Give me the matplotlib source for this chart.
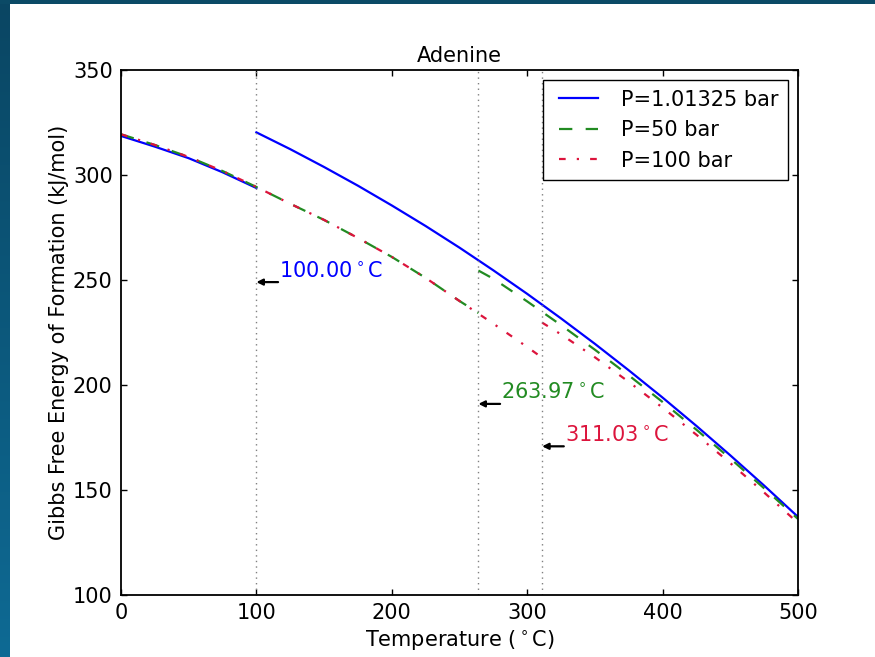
import numpy as np
import matplotlib
matplotlib.use("Agg")
import matplotlib.pyplot as plt
from matplotlib.lines import Line2D
from matplotlib.legend_handler import HandlerLine2D

# --- data (kJ/mol vs. degrees C) ---
# liquid branch at 1.01325 bar
t_liq_1 = [0, 25, 50, 75, 100]
g_liq_1 = [318.6, 313.5, 308.0, 301.3, 293.8]
# gas branch at 1.01325 bar
t_gas_1 = [100, 125, 150, 175, 200, 225, 250, 275, 300, 325, 350, 375, 400, 425, 450, 475, 500]
g_gas_1 = [320.3, 312.3, 303.8, 294.9, 285.5, 275.7, 265.4, 254.6, 243.4, 231.7, 219.6,
           207.0, 194.0, 180.5, 166.5, 152.1, 137.2]

# liquid branch at 50 bar
t_liq_50 = [0, 25, 50, 75, 100, 125, 150, 175, 200, 225, 250, 263.97]
g_liq_50 = [319.4, 314.3, 308.6, 301.9, 294.3, 286.3, 278.6, 270.0, 261.0, 251.0, 240.0, 234.3]
# gas branch at 50 bar
t_gas_50 = [263.97, 275, 300, 325, 350, 375, 400, 425, 450, 475, 500]
g_gas_50 = [254.5, 250.6, 239.8, 228.5, 216.8, 204.6, 191.9, 178.7, 165.0, 150.8, 136.2]

# liquid branch at 100 bar
t_liq_100 = [0, 25, 50, 75, 100, 125, 150, 175, 200, 225, 250, 275, 300, 311.03]
g_liq_100 = [319.4, 314.3, 308.6, 301.9, 294.3, 286.3, 278.6, 270.0, 261.0, 251.0, 240.0,
             229.2, 218.1, 213.0]
# gas branch at 100 bar
t_gas_100 = [311.03, 325, 350, 375, 400, 425, 450, 475, 500]
g_gas_100 = [229.7, 224.1, 213.2, 201.5, 189.2, 176.3, 162.8, 148.8, 134.3]

# boiling points and the height of their markers
t_boil = [100.00, 263.97, 311.03]
g_mark = [249.0, 191.0, 170.8]
boil_colors = ["blue", "forestgreen", "crimson"]

labels = ["P=1.01325 bar", "P=50 bar", "P=100 bar"]

FS = 15

fig = plt.figure(figsize=(8.75, 6.57), dpi=100)

# window frame behind the figure
bg = fig.add_axes([0, 0, 1, 1], zorder=-10)
bg.set_axis_off()
bg.add_patch(plt.Rectangle((0, 0), 875, 4, color="#0b4a66", lw=0))
grad = np.linspace(0, 1, 256).reshape(-1, 1)
cmap = matplotlib.colors.LinearSegmentedColormap.from_list("frame", ["#0a4663", "#0e6a94"])
bg.imshow(grad, cmap=cmap, extent=[0, 10, 657, 0], aspect="auto")
bg.set_xlim(0, 875)
bg.set_ylim(657, 0)

ax = fig.add_axes([121 / 875, 1 - 595 / 657, 677 / 875, 525 / 657])

lw = 1.6
dash = (0, (6, 6))
dashdot = (0, (3, 5, 1, 5))
l1, = ax.plot(t_liq_1, g_liq_1, color="blue", lw=lw, label=labels[0])
ax.plot(t_gas_1, g_gas_1, color="blue", lw=lw)
l2, = ax.plot(t_liq_50, g_liq_50, color="forestgreen", lw=lw, ls=dash, label=labels[1])
ax.plot(t_gas_50, g_gas_50, color="forestgreen", lw=lw, ls=dash)
l3, = ax.plot(t_liq_100, g_liq_100, color="crimson", lw=lw, ls=dashdot, label=labels[2])
ax.plot(t_gas_100, g_gas_100, color="crimson", lw=lw, ls=dashdot)

for t, g, c in zip(t_boil, g_mark, boil_colors):
    ax.axvline(t, color="gray", lw=1.0, ls=(0, (1, 3)))
    ax.annotate("", xy=(t, g), xytext=(t + 16, g),
                arrowprops=dict(arrowstyle="-|>", color="k", lw=1.6,
                                mutation_scale=9, shrinkA=0, shrinkB=0))
    ax.text(t + 16.8, g + 2.6, "%.2f$^\\circ$C" % t, color=c, fontsize=FS,
            ha="left", va="baseline")

ax.set_xlim(0, 500)
ax.set_ylim(100, 350)
ax.set_xticks([0, 100, 200, 300, 400, 500])
ax.set_yticks([100, 150, 200, 250, 300, 350])
ax.tick_params(direction="in", top=True, right=True, length=4.5, width=1,
               labelsize=FS, pad=6)
for s in ax.spines.values():
    s.set_linewidth(1.3)

ax.set_title("Adenine", fontsize=FS, pad=5.5)
ax.set_xlabel("Temperature ($^\\circ$C)", fontsize=FS, labelpad=3)
ax.set_ylabel("Gibbs Free Energy of Formation (kJ/mol)", fontsize=FS, labelpad=3)

leg = ax.legend(handles=[l1, l2, l3], loc="upper right", fontsize=FS, fancybox=False,
                framealpha=1, edgecolor="black", handlelength=2.2, handletextpad=1.1,
                borderpad=0.45, labelspacing=0.5, borderaxespad=0.5,
                handler_map={Line2D: HandlerLine2D(xpad=0.35)})
leg.get_frame().set_linewidth(1.0)

fig.savefig("out.png", dpi=100)
